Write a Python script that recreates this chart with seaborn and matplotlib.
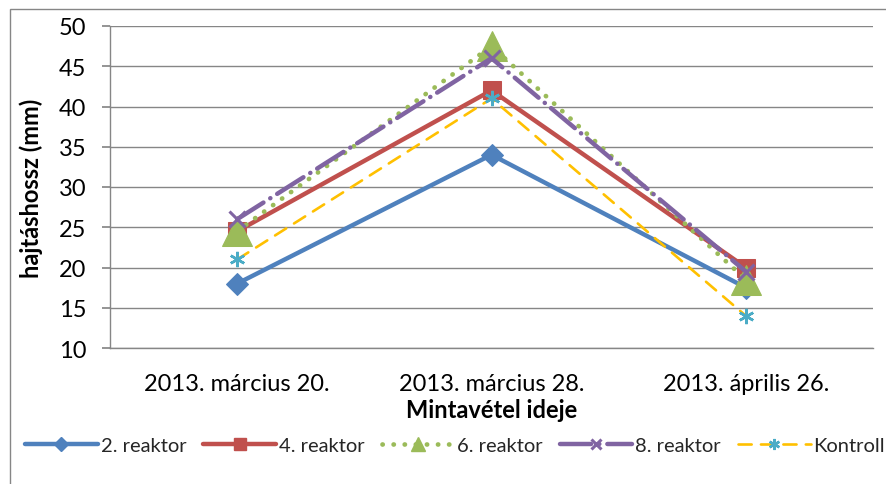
import matplotlib
matplotlib.use("Agg")
import matplotlib.pyplot as plt
import seaborn as sns
import pandas as pd
from matplotlib.patches import Rectangle
from matplotlib.lines import Line2D

categories = ["2013. március 20.", "2013. március 28.", "2013. április 26."]
reaktor2 = [18, 34, 17.5]
reaktor4 = [24.5, 42, 20]
reaktor6 = [24.5, 47.5, 18.5]
reaktor8 = [26, 46, 19.5]
kontroll = [21, 41, 14]
series_names = ["2. reaktor", "4. reaktor", "6. reaktor", "8. reaktor", "Kontroll"]
yticks = [10, 15, 20, 25, 30, 35, 40, 45, 50]

sns.set_theme(style="white")
plt.rcParams['font.family'] = ['Lato', 'DejaVu Sans']

fig = plt.figure(figsize=(8.86, 4.85), dpi=100)
ax = fig.add_axes([110/886, 1-349/485, (873-110)/886, (349-27)/485])

styles = [
    dict(color="#4F81BD", marker="D", markersize=11, linewidth=3.2, linestyle="-",
         mfc="#4F81BD", mec="#4F81BD"),
    dict(color="#C0504D", marker="s", markersize=13, linewidth=3.2, linestyle="-",
         mfc="#C0504D", mec="#C0504D"),
    dict(color="#9BBB59", marker="^", markersize=22, linewidth=3.4, linestyle=(0, (0.05, 2.3)),
         mfc="#9BBB59", mec="#9BBB59"),
    dict(color="#8064A2", marker="x", markersize=11, linewidth=3.2, linestyle=(0, (7, 1.8, 0.05, 1.8)),
         mfc="#8064A2", mec="#8064A2", markeredgewidth=2.2),
    dict(color="#FFC000", marker=(6, 2, 0), markersize=11, linewidth=1.9, linestyle=(0, (5, 3.5)),
         mfc="#4BACC6", mec="#4BACC6", markeredgewidth=1.8),
]
legend_ms = [7, 9, 10, 7, 8]
data_all = [reaktor2, reaktor4, reaktor6, reaktor8, kontroll]

for name, vals, st in zip(series_names, data_all, styles):
    df = pd.DataFrame({"x": categories, "y": vals})
    sns.lineplot(data=df, x="x", y="y", ax=ax, label=name, sort=False, **st)

for ln in ax.get_lines():
    ln.set_dash_capstyle("round")

ax.set_xlim(-0.5, 2.5)
ax.set_ylim(10, 50)
ax.set_yticks(yticks)
ax.grid(axis="y", color="#868686", linewidth=1)
ax.set_axisbelow(True)
for s in ["top", "right"]:
    ax.spines[s].set_visible(False)
for s in ["left", "bottom"]:
    ax.spines[s].set_color("#868686")
    ax.spines[s].set_linewidth(1)
ax.tick_params(axis="y", which="major", left=True, length=6, color="#868686",
               labelsize=17, pad=11, labelcolor="black")
ax.tick_params(axis="x", bottom=False, labelsize=17, pad=12, labelcolor="black")
ax.set_ylabel("hajtáshossz (mm)", fontsize=17, fontweight="bold", color="black")
ax.yaxis.set_label_coords(-0.088, 0.5)
ax.set_xlabel("Mintavétel ideje", fontsize=17, fontweight="bold", labelpad=3, color="black")

ax.get_legend().remove()
handles = []
for st, ms in zip(styles, legend_ms):
    h = Line2D([], [], color=st["color"], linewidth=st["linewidth"], linestyle=st["linestyle"],
               marker=st["marker"], markersize=ms, mfc=st["mfc"], mec=st["mec"],
               markeredgewidth=st.get("markeredgewidth", 1.0), dash_capstyle="round")
    handles.append(h)
leg = fig.legend(handles, series_names, loc="center left", bbox_to_anchor=(25/886, 1-446/485),
                 ncol=5, frameon=False, fontsize=14.5, handlelength=3.6, handletextpad=0.15,
                 columnspacing=0.85, borderaxespad=0, borderpad=0)

fig.patches.append(Rectangle((10/886, -0.05), 1.2, 1-10/485+0.05, transform=fig.transFigure,
                             fill=False, edgecolor="#868686", linewidth=1))

fig.savefig("out.png", dpi=100)
